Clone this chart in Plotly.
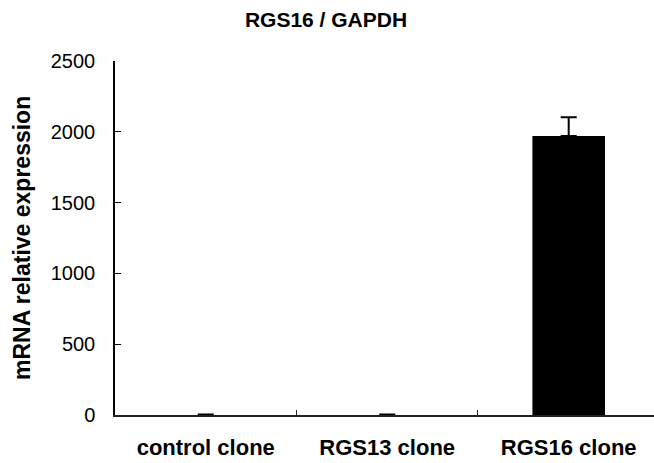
import plotly.graph_objects as go

categories = ["control clone", "RGS13 clone", "RGS16 clone"]
values = [0, 0, 1970]
errors = [3, 3, 132]
y_ticks = [0, 500, 1000, 1500, 2000, 2500]

W, H = 654, 463
L, R, T, B = 115, 0, 61, 48

fig = go.Figure()
fig.add_trace(go.Bar(
    x=categories, y=values, width=0.4,
    marker=dict(color="black", line=dict(width=0)),
    error_y=dict(type="data", array=errors, symmetric=False, arrayminus=[0, 0, 0],
                 color="black", thickness=2, width=8, visible=True),
))

fig.update_layout(
    width=W, height=H,
    margin=dict(l=L, r=R, t=T, b=B, pad=0),
    paper_bgcolor="white", plot_bgcolor="white",
    showlegend=False,
    font=dict(family="Liberation Sans, Arial, sans-serif", color="black"),
    title=dict(text="<b>RGS16 / GAPDH</b>", x=326 / W, xanchor="center",
               y=1 - 20 / H, yanchor="middle", font=dict(size=21)),
)
fig.update_xaxes(
    type="category", range=[-0.5, 2.47],
    showline=True, linecolor="#222", linewidth=1.5,
    ticks="inside", tickson="boundaries", ticklen=5, tickcolor="#222", tickwidth=1,
    tickfont=dict(size=22),
    tickprefix="<b>", ticksuffix="</b>",
    ticklabelstandoff=12,
    showgrid=False, zeroline=False, fixedrange=True,
)
fig.update_yaxes(
    range=[0, 2500], tickvals=y_ticks,
    showline=True, linecolor="black", linewidth=1.5,
    ticks="inside", ticklen=6, tickcolor="black", tickwidth=1,
    tickfont=dict(size=20),
    ticklabelstandoff=14,
    showgrid=False, zeroline=False, fixedrange=True,
)
fig.add_annotation(
    text="<b>mRNA relative expression</b>", textangle=-90,
    xref="paper", yref="paper", x=(22 - L) / (W - L - R), y=0.5,
    xanchor="center", yanchor="middle", showarrow=False,
    font=dict(size=23),
)

fig.write_html("out.html")
